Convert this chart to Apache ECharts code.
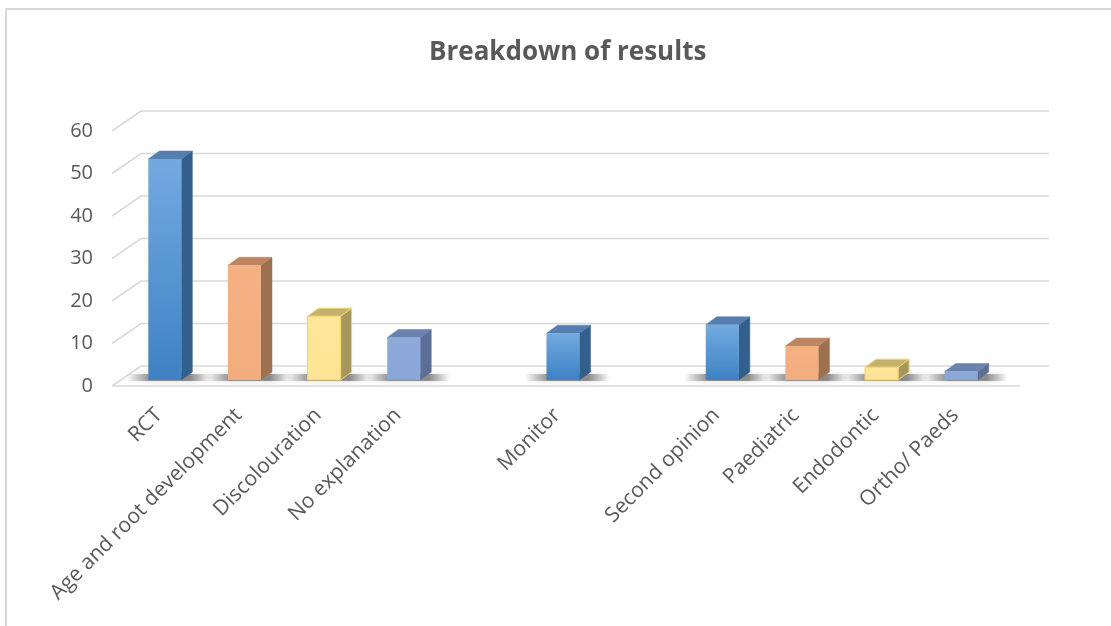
<!DOCTYPE html>
<html>
<head>
<meta charset="utf-8">
<script src="https://cdn.jsdelivr.net/npm/echarts@6/dist/echarts.min.js"></script>
<style>
html,body{margin:0;padding:0;background:#fff;}
#chart{width:1111px;height:626px;}
</style>
</head>
<body>
<div id="chart"></div>
<script>
// ---- data ----
const titleText = 'Breakdown of results';
const categories = ['RCT', 'Age and root development', 'Discolouration', 'No explanation', '', 'Monitor', '', 'Second opinion', 'Paediatric', 'Endodontic', 'Ortho/ Paeds'];
const values = [52, 27, 15, 10, null, 11, null, 13, 8, 3, 2];
const yTicks = [0, 10, 20, 30, 40, 50, 60];

// ---- styles ----
const palette = [
  { front: ['#73aae0', '#3d82c4'], side: '#335f8d', top: '#567fb0', stroke: null },
  { front: ['#f4b183', '#f2ad7d'], side: '#9c7150', top: '#bd8561', stroke: null },
  { front: ['#ffe699', '#fee495'], side: '#a69660', top: '#c5b16f', stroke: '#f2d36a' },
  { front: ['#8eaadb', '#8aa6d8'], side: '#5b6e96', top: '#6a82ae', stroke: null }
];
// colour index restarts after each blank category (Excel "vary colours by point" per block)
const colorIdx = [];
let run = 0;
categories.forEach((c, i) => { if (c === '') { run = 0; colorIdx.push(-1); } else { colorIdx.push(run % 4); run++; } });

const DEPTH_X = 29, DEPTH_Y = -20;      // back wall offset
const BAR_DX = 11, BAR_DY = -8;         // bar depth
const FRAME_L = 12, FRAME_R = 20;

const chart = echarts.init(document.getElementById('chart'), null, { renderer: 'canvas' });

const option = {
  backgroundColor: '#ffffff',
  animation: false,
  title: {
    text: titleText,
    left: 424,
    top: 35,
    textStyle: { fontFamily: 'Open Sans', fontWeight: 'bold', fontSize: 26, color: '#595959' }
  },
  graphic: [{
    type: 'rect',
    shape: { x: 6, y: 9, width: 1120, height: 640 },
    style: { fill: 'none', stroke: '#d9d9d9', lineWidth: 2 },
    silent: true
  }],
  grid: { left: 124, right: 111, top: 131, bottom: 240, containLabel: false },
  xAxis: {
    type: 'category',
    data: categories,
    axisLine: { show: false },
    axisTick: { show: false },
    axisLabel: {
      interval: 0, rotate: 45, margin: 21, padding: [0, 7, 0, 0],
      fontFamily: 'Open Sans', fontSize: 21, color: '#595959'
    }
  },
  yAxis: {
    type: 'value',
    min: 0, max: 60, interval: 10,
    axisLine: { show: false },
    axisTick: { show: false },
    splitLine: { show: false },
    axisLabel: { margin: 31, padding: [11, 0, 0, 0], fontFamily: 'Open Sans', fontSize: 20, color: '#595959' }
  },
  series: [
    {
      type: 'custom',
      name: 'frame',
      silent: true,
      z: 1,
      data: yTicks.map(v => [0, v]),
      encode: { x: 0, y: 1 },
      renderItem: function (params, api) {
        const cs = params.coordSys;
        const v = api.value(1);
        const y = api.coord([0, v])[1];
        const xl = cs.x - FRAME_L, xr = cs.x + cs.width + FRAME_R;
        const children = [{
          type: 'polyline',
          shape: { points: [[xl, y], [xl + DEPTH_X, y + DEPTH_Y], [xr + DEPTH_X, y + DEPTH_Y]] },
          style: { stroke: '#d9d9d9', lineWidth: 1.6, fill: null }
        }];
        if (v === 0) {
          children.push({
            type: 'line',
            shape: { x1: xl, y1: y, x2: xr, y2: y },
            style: { stroke: '#d9d9d9', lineWidth: 1.6 }
          });
        }
        return { type: 'group', children: children };
      }
    },
    {
      type: 'custom',
      name: 'bars',
      z: 2,
      data: values.map((v, i) => [i, v]),
      encode: { x: 0, y: 1 },
      renderItem: function (params, api) {
        const i = api.value(0);
        const v = values[i];
        if (v === null || v === undefined) return null;
        const pal = palette[colorIdx[i]];
        const base = api.coord([i, 0]);
        const topP = api.coord([i, v]);
        const bw = api.size([1, 0])[0] * 0.415;
        const x0 = base[0] + 1 - bw / 2, x1 = x0 + bw;
        const yb = base[1] - 6, yt = topP[1] - 6;
        const children = [];
        // floor shadow (soft)
        children.push({
          type: 'rect',
          shape: { x: x0 - 22, y: yb - 6, width: bw + 52, height: 7, r: 3.5 },
          style: {
            fill: new echarts.graphic.LinearGradient(0, 0, 1, 0, [
              { offset: 0, color: 'rgba(60,60,60,0)' },
              { offset: 0.3, color: 'rgba(50,50,50,0.5)' },
              { offset: 0.75, color: 'rgba(50,50,50,0.5)' },
              { offset: 1, color: 'rgba(60,60,60,0)' }
            ]),
            shadowBlur: 6,
            shadowColor: 'rgba(60,60,60,0.4)'
          }
        });
        // side face
        children.push({
          type: 'polygon',
          shape: { points: [[x1, yt], [x1 + BAR_DX, yt + BAR_DY], [x1 + BAR_DX, yb + BAR_DY], [x1, yb]] },
          style: { fill: pal.side, stroke: pal.stroke || pal.side, lineWidth: pal.stroke ? 1 : 0.5 }
        });
        // top face
        children.push({
          type: 'polygon',
          shape: { points: [[x0, yt], [x0 + BAR_DX, yt + BAR_DY], [x1 + BAR_DX, yt + BAR_DY], [x1, yt]] },
          style: { fill: pal.top, stroke: pal.stroke || pal.top, lineWidth: pal.stroke ? 1 : 0.5 }
        });
        // front face
        children.push({
          type: 'rect',
          shape: { x: x0, y: yt, width: bw, height: yb - yt },
          style: {
            fill: new echarts.graphic.LinearGradient(0, 0, 0, 1, [
              { offset: 0, color: pal.front[0] },
              { offset: 1, color: pal.front[1] }
            ]),
            stroke: pal.stroke || null,
            lineWidth: pal.stroke ? 1 : 0
          }
        });
        return { type: 'group', children: children };
      }
    }
  ]
};
chart.setOption(option);
</script>
</body>
</html>
